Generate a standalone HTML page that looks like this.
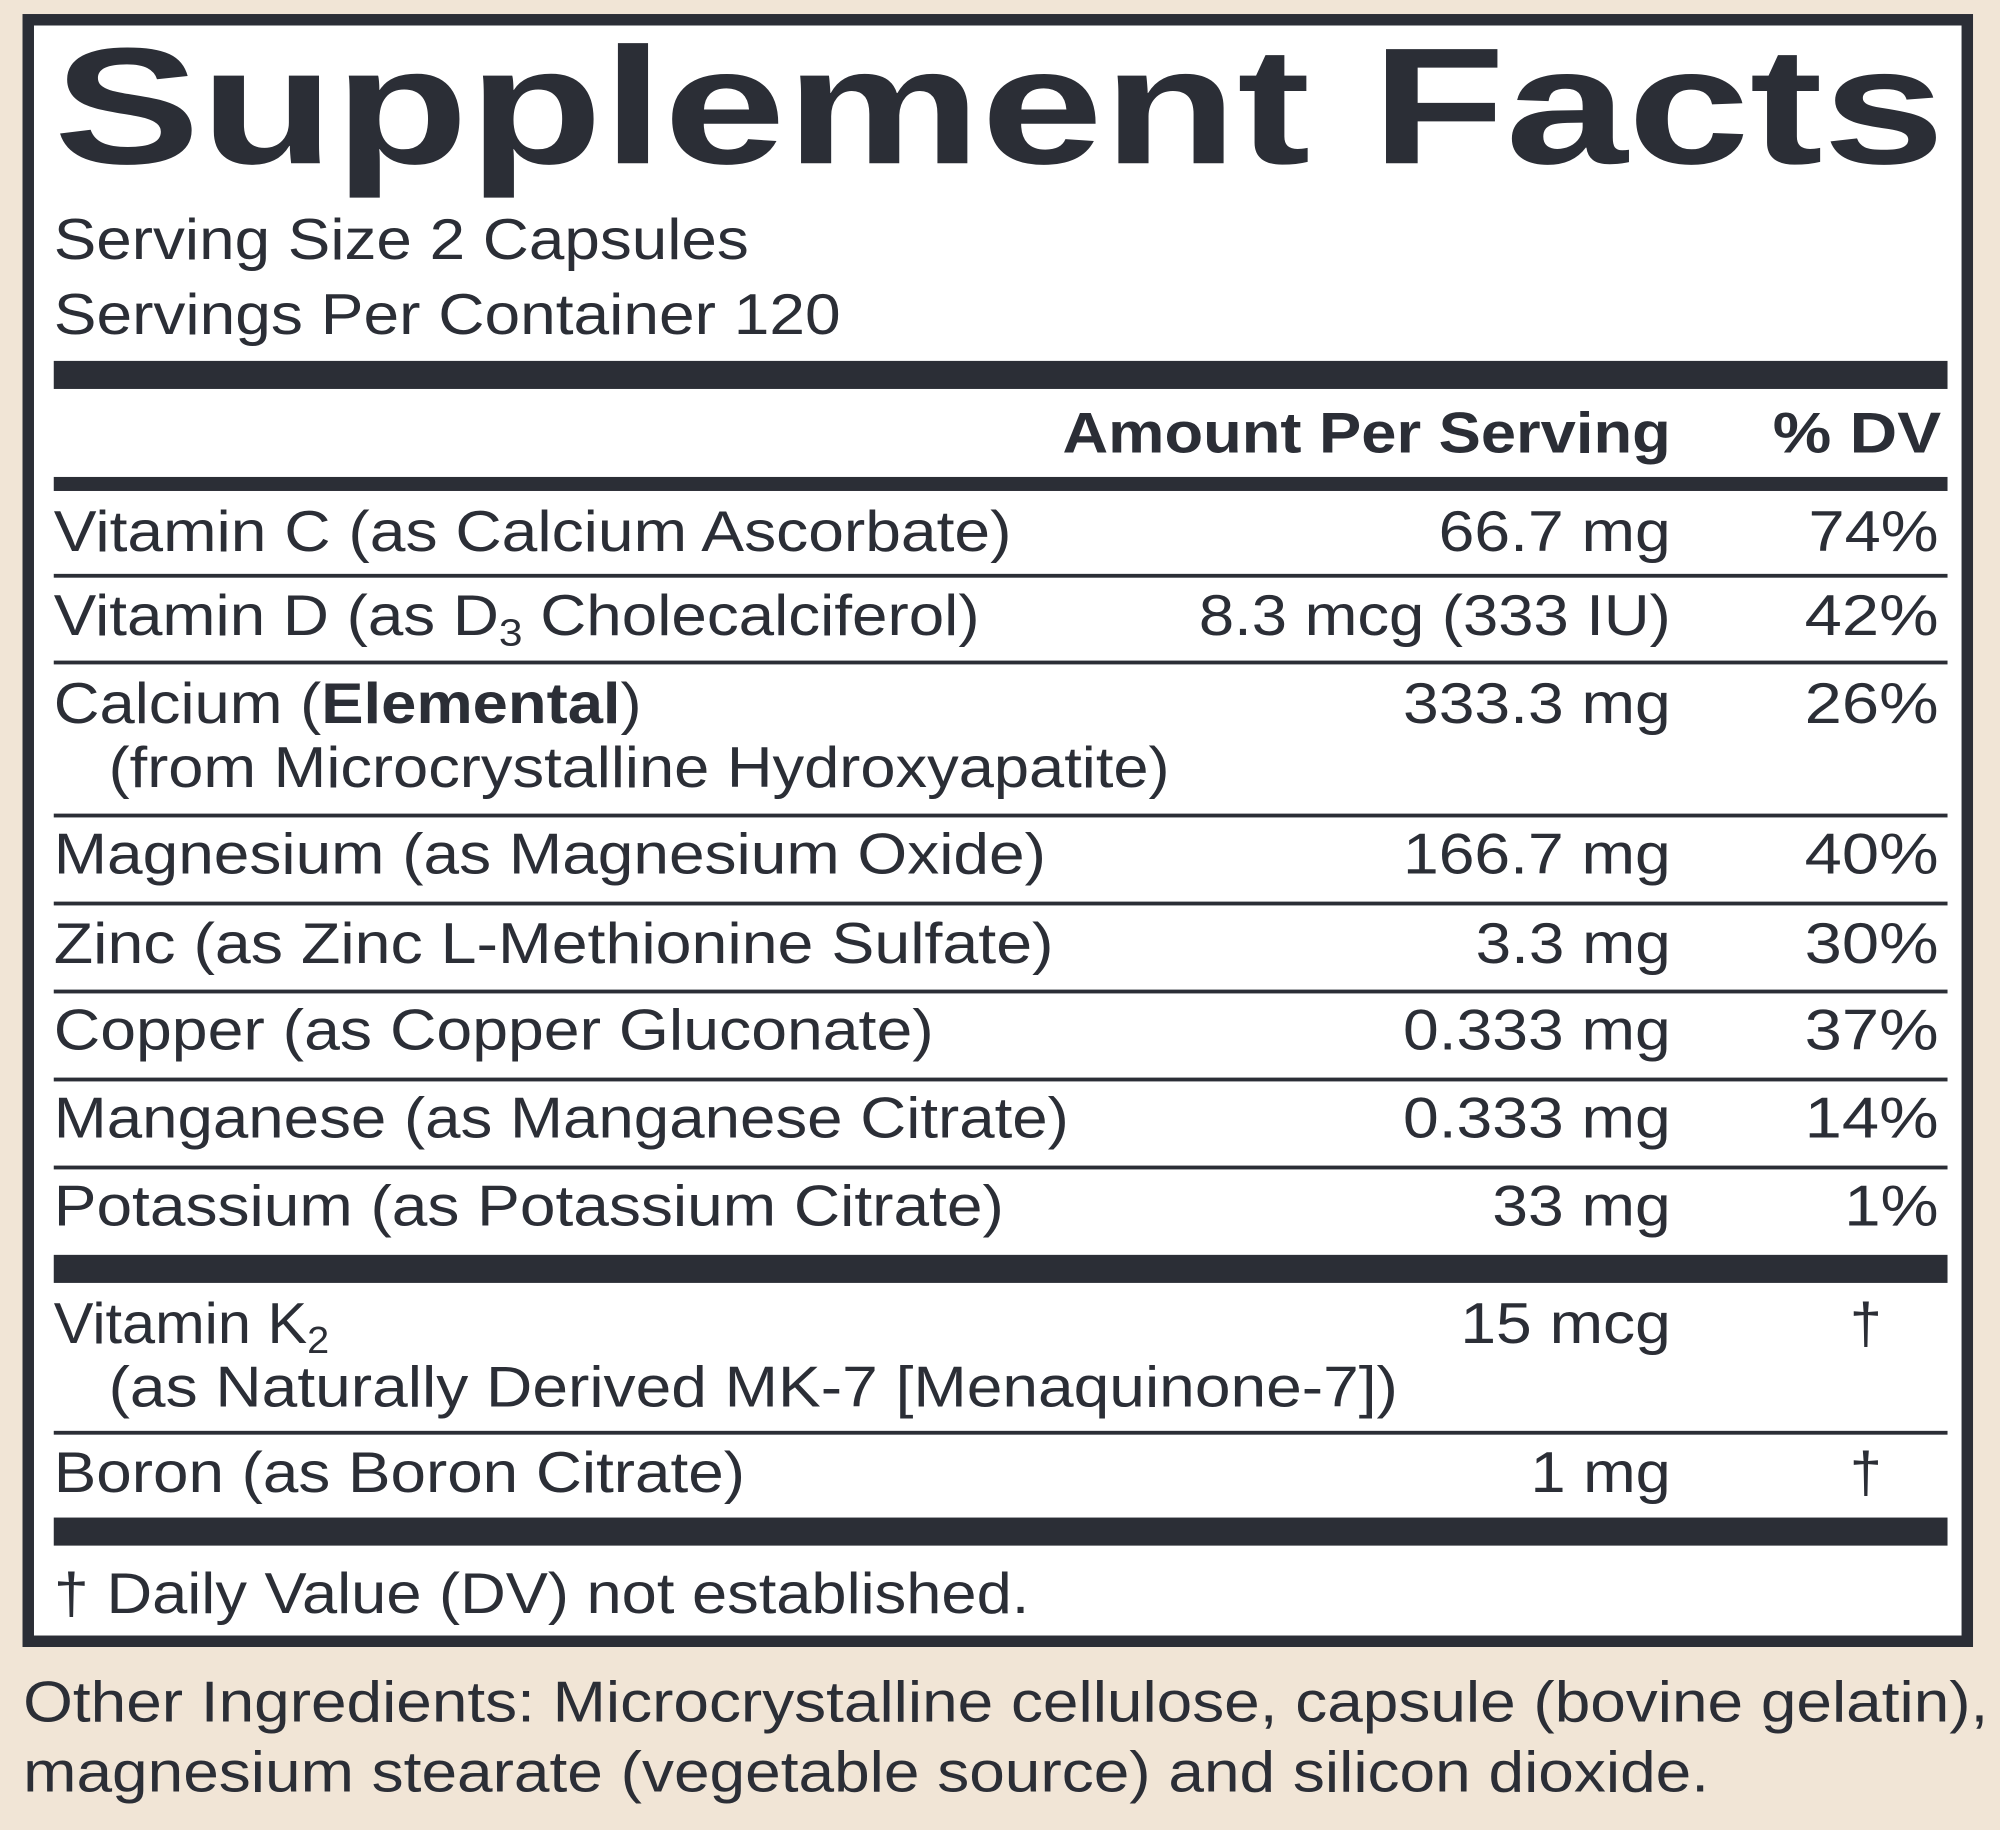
<!DOCTYPE html>
<html><head><meta charset="utf-8"><style>
html,body{margin:0;padding:0;background:#f1e5d6;}
svg{display:block;}
text{font-family:"Liberation Sans",Arial,sans-serif;fill:#2b2e36;font-size:45px;}
.b{font-weight:bold;}
</style></head><body>
<svg width="2000" height="1830" viewBox="0 0 1568 1435" xmlns="http://www.w3.org/2000/svg">
<rect x="0" y="0" width="1568" height="1435" fill="#f1e5d6"/>
<rect x="22" y="15.5" width="1520.5" height="1271.5" fill="#fff" stroke="#2b2e36" stroke-width="9"/>
<text x="42" y="128" class="b" style="font-size:130px" textLength="1483" lengthAdjust="spacingAndGlyphs">Supplement Facts</text>
<text x="42" y="203" textLength="545" lengthAdjust="spacingAndGlyphs">Serving Size 2 Capsules</text>
<text x="42" y="262" textLength="617" lengthAdjust="spacingAndGlyphs">Servings Per Container 120</text>
<rect x="42" y="283" width="1485" height="22" fill="#2b2e36"/>
<text x="1310" y="355" class="b" text-anchor="end" textLength="477" lengthAdjust="spacingAndGlyphs">Amount Per Serving</text>
<text x="1522" y="355" class="b" text-anchor="end" textLength="132" lengthAdjust="spacingAndGlyphs">% DV</text>
<rect x="42" y="374" width="1485" height="11" fill="#2b2e36"/>
<g fill="#2b2e36">
<rect x="42" y="450" width="1485" height="3"/>
<rect x="42" y="518" width="1485" height="3"/>
<rect x="42" y="638" width="1485" height="3"/>
<rect x="42" y="707" width="1485" height="3"/>
<rect x="42" y="776" width="1485" height="3"/>
<rect x="42" y="845" width="1485" height="3"/>
<rect x="42" y="914" width="1485" height="3"/>
<rect x="42" y="984" width="1485" height="22"/>
<rect x="42" y="1122" width="1485" height="3"/>
<rect x="42" y="1190" width="1485" height="22"/>
</g>
<text x="42" y="432" textLength="751" lengthAdjust="spacingAndGlyphs">Vitamin C (as Calcium Ascorbate)</text>
<text x="1310" y="432" text-anchor="end" textLength="182" lengthAdjust="spacingAndGlyphs">66.7 mg</text>
<text x="1520" y="432" text-anchor="end" textLength="102" lengthAdjust="spacingAndGlyphs">74%</text>

<text x="42" y="498" textLength="726" lengthAdjust="spacingAndGlyphs">Vitamin D (as D<tspan style="font-size:30px" dy="8">3</tspan><tspan dy="-8"> Cholecalciferol)</tspan></text>
<text x="1310" y="498" text-anchor="end" textLength="370" lengthAdjust="spacingAndGlyphs">8.3 mcg (333 IU)</text>
<text x="1520" y="498" text-anchor="end" textLength="105" lengthAdjust="spacingAndGlyphs">42%</text>

<text x="42" y="567" textLength="461" lengthAdjust="spacingAndGlyphs">Calcium (<tspan class="b">Elemental</tspan>)</text>
<text x="85" y="617" textLength="832" lengthAdjust="spacingAndGlyphs">(from Microcrystalline Hydroxyapatite)</text>
<text x="1310" y="567" text-anchor="end" textLength="210" lengthAdjust="spacingAndGlyphs">333.3 mg</text>
<text x="1520" y="567" text-anchor="end" textLength="105" lengthAdjust="spacingAndGlyphs">26%</text>

<text x="42" y="685" textLength="778" lengthAdjust="spacingAndGlyphs">Magnesium (as Magnesium Oxide)</text>
<text x="1310" y="685" text-anchor="end" textLength="210" lengthAdjust="spacingAndGlyphs">166.7 mg</text>
<text x="1520" y="685" text-anchor="end" textLength="105" lengthAdjust="spacingAndGlyphs">40%</text>

<text x="42" y="755" textLength="784" lengthAdjust="spacingAndGlyphs">Zinc (as Zinc L-Methionine Sulfate)</text>
<text x="1310" y="755" text-anchor="end" textLength="153" lengthAdjust="spacingAndGlyphs">3.3 mg</text>
<text x="1520" y="755" text-anchor="end" textLength="105" lengthAdjust="spacingAndGlyphs">30%</text>

<text x="42" y="823" textLength="690" lengthAdjust="spacingAndGlyphs">Copper (as Copper Gluconate)</text>
<text x="1310" y="823" text-anchor="end" textLength="210" lengthAdjust="spacingAndGlyphs">0.333 mg</text>
<text x="1520" y="823" text-anchor="end" textLength="105" lengthAdjust="spacingAndGlyphs">37%</text>

<text x="42" y="892" textLength="796" lengthAdjust="spacingAndGlyphs">Manganese (as Manganese Citrate)</text>
<text x="1310" y="892" text-anchor="end" textLength="210" lengthAdjust="spacingAndGlyphs">0.333 mg</text>
<text x="1520" y="892" text-anchor="end" textLength="105" lengthAdjust="spacingAndGlyphs">14%</text>

<text x="42" y="961" textLength="745" lengthAdjust="spacingAndGlyphs">Potassium (as Potassium Citrate)</text>
<text x="1310" y="961" text-anchor="end" textLength="140" lengthAdjust="spacingAndGlyphs">33 mg</text>
<text x="1520" y="961" text-anchor="end" textLength="74" lengthAdjust="spacingAndGlyphs">1%</text>

<text x="42" y="1053" textLength="216" lengthAdjust="spacingAndGlyphs">Vitamin K<tspan style="font-size:30px" dy="8">2</tspan></text>
<text x="85" y="1103" textLength="1011" lengthAdjust="spacingAndGlyphs">(as Naturally Derived MK-7 [Menaquinone-7])</text>
<text x="1310" y="1053" text-anchor="end" textLength="165" lengthAdjust="spacingAndGlyphs">15 mcg</text>
<text x="1463" y="1053" text-anchor="middle">†</text>

<text x="42" y="1170" textLength="542" lengthAdjust="spacingAndGlyphs">Boron (as Boron Citrate)</text>
<text x="1310" y="1170" text-anchor="end" textLength="110" lengthAdjust="spacingAndGlyphs">1 mg</text>
<text x="1463" y="1170" text-anchor="middle">†</text>

<text x="42" y="1265" textLength="765" lengthAdjust="spacingAndGlyphs">† Daily Value (DV) not established.</text>

<text x="18" y="1350" textLength="1541" lengthAdjust="spacingAndGlyphs">Other Ingredients: Microcrystalline cellulose, capsule (bovine gelatin),</text>
<text x="18" y="1405" textLength="1322" lengthAdjust="spacingAndGlyphs">magnesium stearate (vegetable source) and silicon dioxide.</text>
</svg>
</body></html>
